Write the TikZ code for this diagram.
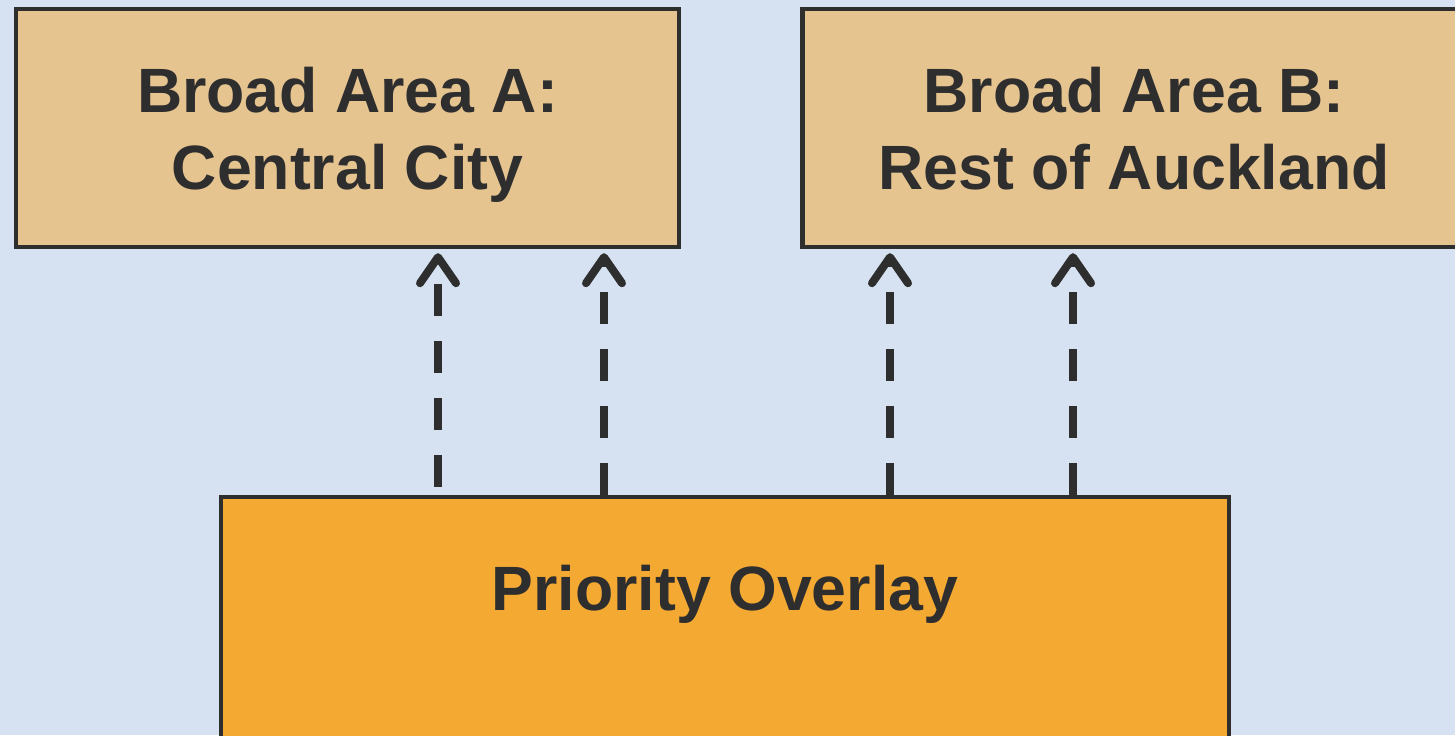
\documentclass[tikz,border=0pt]{standalone}
\usepackage{fontspec}
\setmainfont{Liberation Sans}
\usetikzlibrary{arrows.meta,positioning}

\definecolor{bgblue}{HTML}{D6E2F1}
\definecolor{areatan}{HTML}{E5C490}
\definecolor{overlayorange}{HTML}{F4A933}
\definecolor{ink}{HTML}{2E2E2E}

\tikzset{
  area/.style={draw=ink, line width=2.2pt, fill=areatan, text=ink,
    minimum width=331.5pt, minimum height=119pt, align=center, text depth=0pt,
    font=\bfseries\fontsize{31.3}{38.5}\selectfont},
  overlay/.style={draw=ink, line width=2.2pt, fill=overlayorange,
    minimum width=504pt, minimum height=150pt},
  lbl/.style={text=ink, font=\bfseries\fontsize{31.3}{38.5}\selectfont},
  dep/.style={draw=ink, line width=4pt, dash pattern=on 16pt off 12.5pt,
    -{Straight Barb[length=13pt,width=18pt,round]}},
}

\begin{document}
\begin{tikzpicture}[x=0.5pt,y=0.5pt]
    \clip (0,0) rectangle (1455,735);
    \fill[bgblue] (0,0) rectangle (1455,735);
    \node[area] (A) at (347.5,607) {Broad Area A:\\Central City};
    \node[area] (B) at (1134,607) {Broad Area B:\\Rest of Auckland};
    \node[overlay] (P) at (725,88) {};
    \node[lbl, anchor=base] (Ptxt) at ([yshift=-58pt]P.north) {Priority Overlay};
    \foreach \x/\t/\ph in {438/A/24.5,604/A/0,890/B/0,1073/B/0} {
      \coordinate (c) at (\x,0);
      \draw[dep, dash phase=\ph pt] (P.north -| c) -- ([yshift=-2pt]\t.south -| c);
    }
\end{tikzpicture}
\end{document}
